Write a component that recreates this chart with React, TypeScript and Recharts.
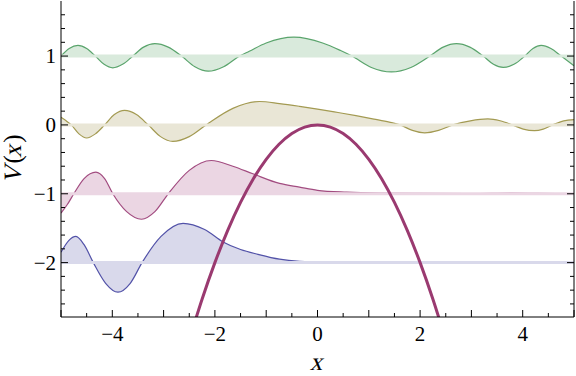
import React from "react";
import { ComposedChart, Area, Line, XAxis, YAxis } from "recharts";

type Pt = { x: number; y: number };

// levels (energies) the wavefunctions are drawn around
const levels = [1, 0, -1, -2];

// psi + E
const green: [number, number][] = [
  [-5.0, 1.0], [-4.84, 1.11], [-4.67, 1.155], [-4.5, 1.11], [-4.33, 1.0],
  [-4.16, 0.88], [-3.99, 0.83], [-3.8, 0.88], [-3.6, 1.0], [-3.39, 1.13],
  [-3.17, 1.18], [-2.91, 1.13], [-2.65, 1.0], [-2.39, 0.845], [-2.13, 0.78],
  [-1.83, 0.845], [-1.52, 1.0], [-1.33, 1.07], [-1.0, 1.19], [-0.46, 1.275],
  [0.1, 1.19], [0.45, 1.08], [0.67, 1.0], [1.05, 0.835], [1.44, 0.77],
  [1.82, 0.835], [2.19, 1.0], [2.45, 1.13], [2.71, 1.18], [2.97, 1.13],
  [3.23, 1.0], [3.43, 0.88], [3.62, 0.835], [3.83, 0.88], [4.04, 1.0],
  [4.2, 1.11], [4.36, 1.155], [4.55, 1.11], [4.75, 1.0], [5.0, 0.86],
];

const olive: [number, number][] = [
  [-5.0, 0.11], [-4.9, 0.06], [-4.8, 0.0], [-4.65, -0.13], [-4.5, -0.19],
  [-4.33, -0.13], [-4.15, 0.0], [-3.96, 0.15], [-3.76, 0.21], [-3.53, 0.15],
  [-3.3, 0.0], [-3.06, -0.17], [-2.82, -0.24], [-2.5, -0.17], [-2.17, 0.0],
  [-1.65, 0.24], [-1.13, 0.34], [-0.74, 0.31], [-0.35, 0.27], [0.0, 0.23],
  [0.4, 0.18], [0.75, 0.135], [1.1, 0.085], [1.4, 0.04], [1.61, 0.0],
  [1.85, -0.08], [2.09, -0.116], [2.36, -0.08], [2.64, 0.0], [2.98, 0.06],
  [3.32, 0.087], [3.56, 0.06], [3.8, 0.0], [4.01, -0.06], [4.23, -0.083],
  [4.4, -0.06], [4.58, 0.0], [4.8, 0.06], [5.0, 0.077],
];

const pink: [number, number][] = [
  [-5.0, -1.28], [-4.88, -1.16], [-4.75, -1.0], [-4.55, -0.78], [-4.32, -0.687],
  [-4.15, -0.78], [-3.99, -1.0], [-3.72, -1.26], [-3.43, -1.37], [-3.17, -1.26],
  [-2.91, -1.0], [-2.5, -0.66], [-2.07, -0.517], [-1.65, -0.6], [-1.26, -0.71],
  [-0.74, -0.85], [-0.35, -0.904], [0.0, -0.95], [0.57, -0.977], [1.2, -0.99],
  [2.0, -0.995], [3.0, -0.997], [3.8, -0.99], [4.3, -0.995], [5.0, -1.0],
];

const blue: [number, number][] = [
  [-5.0, -1.85], [-4.85, -1.68], [-4.71, -1.62], [-4.55, -1.74], [-4.37, -2.0],
  [-4.13, -2.3], [-3.89, -2.43], [-3.65, -2.3], [-3.42, -2.0], [-3.05, -1.62],
  [-2.62, -1.43], [-2.2, -1.52], [-1.84, -1.7], [-1.5, -1.81], [-1.16, -1.88],
  [-0.74, -1.95], [-0.35, -1.98], [0.3, -1.995], [1.0, -2.0], [5.0, -2.0],
];

// inverted oscillator potential
const potential: [number, number][] = [
  [-2.5, -3.125], [-2.25, -2.531], [-2.0, -2.0], [-1.75, -1.531], [-1.5, -1.125],
  [-1.25, -0.781], [-1.0, -0.5], [-0.75, -0.281], [-0.5, -0.125], [-0.25, -0.031],
  [0.0, 0.0], [0.25, -0.031], [0.5, -0.125], [0.75, -0.281], [1.0, -0.5],
  [1.25, -0.781], [1.5, -1.125], [1.75, -1.531], [2.0, -2.0], [2.25, -2.531],
  [2.5, -3.125],
];

const xTicks = [
  -5, -4.5, -4, -3.5, -3, -2.5, -2, -1.5, -1, -0.5, 0, 0.5, 1, 1.5, 2, 2.5, 3,
  3.5, 4, 4.5, 5,
];
const yTicks = [
  -2.6, -2.4, -2.2, -2, -1.8, -1.6, -1.4, -1.2, -1, -0.8, -0.6, -0.4, -0.2, 0,
  0.2, 0.4, 0.6, 0.8, 1, 1.2, 1.4, 1.6,
];
const xLabels = [-4, -2, 0, 2, 4];
const yLabels = [-2, -1, 0, 1];

const curves = [
  { name: "green", pts: green, line: "#5aa46c", fill: "#d9eadc" },
  { name: "olive", pts: olive, line: "#a39a52", fill: "#e9e6d6" },
  { name: "pink", pts: pink, line: "#a24c80", fill: "#ebd6e3" },
  { name: "blue", pts: blue, line: "#5252a8", fill: "#d9d9eb" },
];

const toPts = (a: [number, number][]): Pt[] => a.map(([x, y]) => ({ x, y }));

const FONT = '"Liberation Serif", "DejaVu Serif", serif';
const textStyle: React.CSSProperties = { fontFamily: FONT, fontSize: 21 };
const near = (v: number, arr: number[]) => arr.some((a) => Math.abs(a - v) < 1e-6);
const fmt = (v: number) => (v < 0 ? `\u2212${Math.abs(v)}` : `${v}`);

// no serif italic installed, so slant the upright face instead
const Slant = ({ children }: { children: React.ReactNode }) => (
  <span style={{ display: "inline-block", transform: "skewX(-14deg)" }}>{children}</span>
);

const XTick = (props: any) => {
  const { x, y, payload, side } = props;
  const v = payload.value as number;
  const major = Math.abs(v - Math.round(v)) < 1e-6;
  const len = major ? 7 : 4;
  const dir = side === "top" ? 1 : -1;
  return (
    <g>
      <line x1={x} y1={y} x2={x} y2={y + dir * len} stroke="#000" strokeWidth={1} />
      {side !== "top" && near(v, xLabels) && (
        <text x={x} y={y + 24} textAnchor="middle" style={textStyle} fill="#000">
          {fmt(v)}
        </text>
      )}
    </g>
  );
};

const YTick = (props: any) => {
  const { x, y, payload, side } = props;
  const v = payload.value as number;
  const major = Math.abs(v - Math.round(v)) < 1e-6;
  const len = major ? 7 : 4;
  const dir = side === "right" ? -1 : 1;
  return (
    <g>
      <line x1={x} y1={y} x2={x + dir * len} y2={y} stroke="#000" strokeWidth={1} />
      {side !== "right" && near(v, yLabels) && (
        <text x={x - 5} y={y + 7.3} textAnchor="end" style={textStyle} fill="#000">
          {fmt(v)}
        </text>
      )}
    </g>
  );
};

export default function App() {
  return (
    <div style={{ position: "absolute", left: 0, top: 0, width: 576, height: 376, background: "#fff" }}>
      <ComposedChart width={576} height={376} margin={{ top: 1, right: 0, left: 0, bottom: 0 }}>
        <XAxis
          xAxisId="b"
          type="number"
          dataKey="x"
          domain={[-5, 5]}
          ticks={xTicks}
          interval={0}
          allowDataOverflow
          height={59}
          tickSize={0}
          tickMargin={0}
          tickLine={false}
          axisLine={{ stroke: "#000" }}
          tick={<XTick side="bottom" />}
        />
        <XAxis
          xAxisId="t"
          orientation="top"
          type="number"
          dataKey="x"
          domain={[-5, 5]}
          ticks={xTicks}
          interval={0}
          allowDataOverflow
          height={0}
          tickSize={0}
          tickMargin={0}
          tickLine={false}
          axisLine={{ stroke: "#000" }}
          tick={<XTick side="top" />}
        />
        <YAxis
          yAxisId="l"
          type="number"
          domain={[-2.79, 1.8]}
          ticks={yTicks}
          interval={0}
          allowDataOverflow
          width={61}
          tickSize={0}
          tickMargin={0}
          tickLine={false}
          axisLine={{ stroke: "#000" }}
          tick={<YTick side="left" />}
        />
        <YAxis
          yAxisId="r"
          orientation="right"
          type="number"
          domain={[-2.79, 1.8]}
          ticks={yTicks}
          interval={0}
          allowDataOverflow
          width={2}
          tickSize={0}
          tickMargin={0}
          tickLine={false}
          axisLine={{ stroke: "#000" }}
          tick={<YTick side="right" />}
        />
        {curves.map((c, i) => (
          <Line
            key={`base-${c.name}`}
            xAxisId="b"
            yAxisId="l"
            data={[{ x: -5, y: levels[i] }, { x: 5, y: levels[i] }]}
            dataKey="y"
            stroke={c.fill}
            strokeWidth={3}
            dot={false}
            activeDot={false}
            isAnimationActive={false}
          />
        ))}
        {curves.map((c, i) => (
          <Area
            key={c.name}
            xAxisId="b"
            yAxisId="l"
            data={toPts(c.pts)}
            dataKey="y"
            type="monotone"
            baseValue={levels[i]}
            stroke={c.line}
            strokeWidth={1.2}
            fill={c.fill}
            fillOpacity={1}
            dot={false}
            activeDot={false}
            isAnimationActive={false}
          />
        ))}
        <Line
          xAxisId="b"
          yAxisId="l"
          data={toPts(potential)}
          dataKey="y"
          type="monotone"
          stroke="#9a3a70"
          strokeWidth={3}
          dot={false}
          activeDot={false}
          isAnimationActive={false}
        />
      </ComposedChart>
      <div
        style={{
          position: "absolute",
          left: 318,
          top: 361,
          transform: "translate(-50%, -50%)",
          fontFamily: FONT,
          fontSize: 25,
          lineHeight: "25px",
        }}
      >
        <Slant>x</Slant>
      </div>
      <div
        style={{
          position: "absolute",
          left: 12,
          top: 158,
          transform: "translate(-50%, -50%) rotate(-90deg)",
          fontFamily: FONT,
          fontSize: 25,
          lineHeight: "25px",
          whiteSpace: "nowrap",
        }}
      >
        <Slant>V</Slant>(<Slant>x</Slant>)
      </div>
    </div>
  );
}
